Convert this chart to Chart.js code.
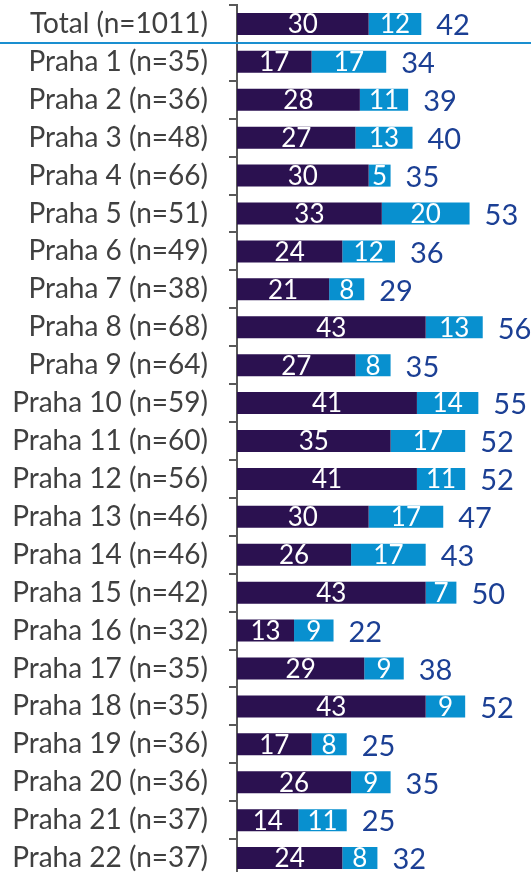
<!DOCTYPE html>
<html lang="cs">
<head>
  <meta charset="UTF-8">
  <title>Praha</title>
  <style>
    html, body {
      margin: 0;
      padding: 0;
      background: #fff;
      overflow: hidden;
    }
    canvas {
      display: block;
    }
  </style>
  <script src="https://cdn.jsdelivr.net/npm/chart.js"></script>
</head>
<body>
  <canvas id="chart" width="531" height="880"></canvas>

  <script>
    const categories = [
      'Total (n=1011)', 'Praha 1 (n=35)', 'Praha 2 (n=36)', 'Praha 3 (n=48)',
      'Praha 4 (n=66)', 'Praha 5 (n=51)', 'Praha 6 (n=49)', 'Praha 7 (n=38)',
      'Praha 8 (n=68)', 'Praha 9 (n=64)', 'Praha 10 (n=59)', 'Praha 11 (n=60)',
      'Praha 12 (n=56)', 'Praha 13 (n=46)', 'Praha 14 (n=46)', 'Praha 15 (n=42)',
      'Praha 16 (n=32)', 'Praha 17 (n=35)', 'Praha 18 (n=35)', 'Praha 19 (n=36)',
      'Praha 20 (n=36)', 'Praha 21 (n=37)', 'Praha 22 (n=37)'
    ];
    const darkValues = [30, 17, 28, 27, 30, 33, 24, 21, 43, 27, 41, 35, 41, 30, 26, 43, 13, 29, 43, 17, 26, 14, 24];
    const lightValues = [12, 17, 11, 13, 5, 20, 12, 8, 13, 8, 14, 17, 11, 17, 17, 7, 9, 9, 9, 8, 9, 11, 8];
    const totals = [42, 34, 39, 40, 35, 53, 36, 29, 56, 35, 55, 52, 52, 47, 43, 50, 22, 38, 52, 25, 35, 25, 32];

    const FONT = 'Lato, "Open Sans", sans-serif';

    // value labels inside bars + totals at the end, and the line under "Total"
    const labelsPlugin = {
      id: 'labels',
      afterDatasetsDraw(chart) {
        const ctx = chart.ctx;
        ctx.save();
        ctx.textBaseline = 'middle';
        ctx.textAlign = 'center';
        ctx.fillStyle = '#ffffff';
        ctx.font = '26px ' + FONT;
        chart.data.datasets.forEach((ds, di) => {
          chart.getDatasetMeta(di).data.forEach((bar, i) => {
            const p = bar.getProps(['x', 'y', 'base'], true);
            ctx.fillText(ds.data[i], (p.x + p.base) / 2, p.y + 1);
          });
        });
        const last = chart.getDatasetMeta(chart.data.datasets.length - 1).data;
        ctx.textAlign = 'left';
        ctx.fillStyle = '#1b3f94';
        ctx.font = '29px ' + FONT;
        last.forEach((bar, i) => {
          const p = bar.getProps(['x', 'y'], true);
          ctx.fillText(totals[i], p.x + 15, p.y + 2);
        });

        // separator line below Total
        const y = chart.scales.y;
        const ly = (y.getPixelForValue(0) + y.getPixelForValue(1)) / 2;
        ctx.strokeStyle = '#1a8fd0';
        ctx.lineWidth = 2;
        ctx.beginPath();
        ctx.moveTo(0, ly);
        ctx.lineTo(chart.width, ly);
        ctx.stroke();
        ctx.restore();
      }
    };

    new Chart(document.getElementById('chart'), {
      type: 'bar',
      data: {
        labels: categories,
        datasets: [
          { data: darkValues, backgroundColor: '#2b1150' },
          { data: lightValues, backgroundColor: '#0890cf' }
        ]
      },
      options: {
        indexAxis: 'y',
        responsive: false,
        animation: false,
        devicePixelRatio: 1,
        barPercentage: 0.58,
        categoryPercentage: 1,
        layout: { autoPadding: false, padding: { top: 5, bottom: 3, left: 0, right: 0 } },
        plugins: {
          legend: { display: false },
          tooltip: { enabled: false }
        },
        scales: {
          x: {
            stacked: true,
            display: false,
            min: 0,
            max: 67
          },
          y: {
            stacked: true,
            afterFit(scale) {
              scale.width = 237;
              scale.paddingTop = 0;
              scale.paddingBottom = 0;
            },
            grid: {
              offset: true,
              drawOnChartArea: false,
              drawTicks: true,
              tickLength: 8,
              color: '#595959',
              lineWidth: 2
            },
            border: { color: '#595959', width: 2 },
            ticks: {
              color: '#404040',
              padding: 21,
              font: { family: FONT, size: 28 }
            }
          }
        }
      },
      plugins: [labelsPlugin]
    });
  </script>
</body>
</html>
